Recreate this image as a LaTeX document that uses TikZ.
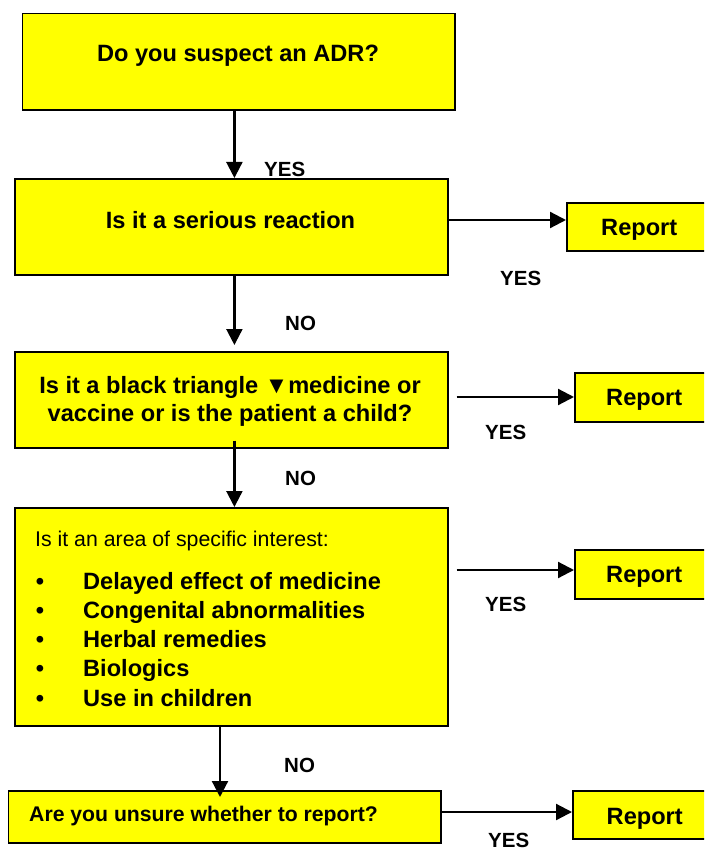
\documentclass[tikz,border=0pt]{standalone}
\usepackage{fontspec}
\setmainfont{Liberation Sans}
\usetikzlibrary{arrows.meta}
\definecolor{boxyellow}{HTML}{FFFF00}
\begin{document}
\begin{tikzpicture}[x=1pt,y=-1pt,
  box/.style={draw=black, line width=1.6pt, fill=boxyellow, inner sep=0pt, anchor=north west},
  mainb/.style={font=\fontsize{23.6}{28.4}\selectfont\bfseries, inner sep=0pt},
  smallb/.style={font=\fontsize{21.2}{25}\selectfont\bfseries, inner sep=0pt},
  plain/.style={font=\fontsize{21.3}{25}\selectfont, inner sep=0pt},
  lab/.style={font=\fontsize{20.5}{24}\selectfont\bfseries, inner sep=0pt, anchor=base west},
  arr/.style={draw=black, line width=2.2pt, -{Triangle[width=16pt,length=16pt]}}]
\path[use as bounding box, clip] (0,0) rectangle (704,850);
% boxes
\node[box, minimum width=432.5pt, minimum height=96.3pt] (b1) at (21.5,12.7) {};
\node[box, minimum width=432.6pt, minimum height=96pt] (b2) at (14.4,178) {};
\node[box, minimum width=432.6pt, minimum height=96pt] (b3) at (14.4,351) {};
\node[box, minimum width=432.6pt, minimum height=218pt] (b4) at (14.4,507) {};
\node[box, minimum width=432.5pt, minimum height=52pt] (b5) at (7.5,790) {};
\node[box, minimum width=150pt, minimum height=48pt] (r1) at (566,202) {};
\node[box, minimum width=150pt, minimum height=49pt] (r2) at (574,372) {};
\node[box, minimum width=150pt, minimum height=49pt] (r3) at (574,549) {};
\node[box, minimum width=150pt, minimum height=48pt] (r4) at (572,790) {};
% texts
\node[mainb, anchor=base] (t1) at (238,61.7) {Do you suspect an ADR?};
\node[mainb, anchor=base] (t2) at (230.5,228.3) {Is it a serious reaction};
\node[mainb, anchor=base] (t3a) at (230,393.3) {Is it a black triangle ▼medicine or};
\node[mainb, anchor=base] (t3b) at (230,421.7) {vaccine or is the patient a child?};
\node[plain, anchor=base west] (t4) at (35,546.7) {Is it an area of specific interest:};
\foreach \yy/\txt [count=\i] in {589.3/Delayed effect of medicine, 618.3/Congenital abnormalities, 647.7/Herbal remedies, 676.7/Biologics, 706/Use in children}{
  \node[mainb, anchor=base] (bul\i) at (40,\yy) {\textbullet};
  \node[mainb, anchor=base west] (it\i) at (83,\yy) {\txt};
}
\node[smallb, anchor=base west] (t5) at (29,821.7) {Are you unsure whether to report?};
\node[mainb, anchor=base west] (rt1) at (601,235) {Report};
\node[mainb, anchor=base west] (rt2) at (606,405.7) {Report};
\node[mainb, anchor=base west] (rt3) at (606,582.7) {Report};
\node[mainb, anchor=base west] (rt4) at (606.5,824.3) {Report};
% labels
\node[lab] (y1) at (264,176.7) {YES};
\node[lab] (n1) at (285,330) {NO};
\node[lab] (y2) at (500,285) {YES};
\node[lab] (y3) at (485,439.3) {YES};
\node[lab] (n2) at (285,485.7) {NO};
\node[lab] (y4) at (485,611) {YES};
\node[lab] (n3) at (284,772.3) {NO};
\node[lab] (y5) at (488,847) {YES};
% connector guides
\coordinate (v1) at (234.4,0);
\coordinate (v2) at (220,0);
\coordinate (h1) at (0,220);
\coordinate (h2) at (0,397);
\coordinate (h3) at (0,570);
\coordinate (h4) at (0,812);
% vertical arrows
\draw[arr] (v1 |- b1.south) -- (v1 |- b2.north);
\draw[arr] (v1 |- b2.south) -- ([yshift=6pt]v1 |- b3.north);
\draw[arr] ([yshift=8pt]v1 |- b3.south) -- (v1 |- b4.north);
\draw[arr] (v2 |- b4.south) -- ([yshift=-7pt]v2 |- b5.north);
% horizontal arrows
\draw[arr] (h1 -| b2.east) -- (h1 -| r1.west);
\draw[arr] ([xshift=8pt]h2 -| b3.east) -- (h2 -| r2.west);
\draw[arr] ([xshift=8pt]h3 -| b4.east) -- (h3 -| r3.west);
\draw[arr] (h4 -| b5.east) -- (h4 -| r4.west);
\end{tikzpicture}
\end{document}
